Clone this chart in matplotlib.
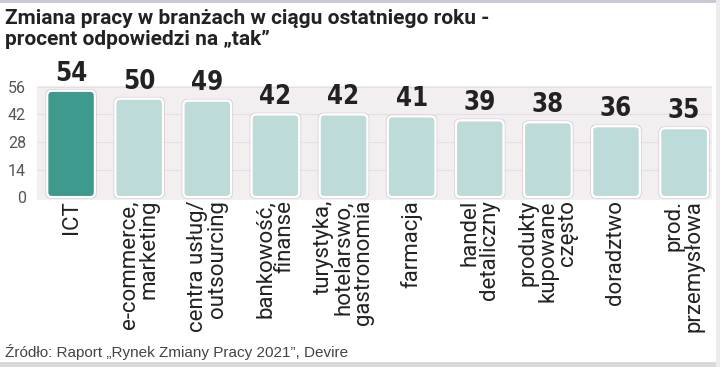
import matplotlib
matplotlib.use('Agg')
import matplotlib.pyplot as plt
from matplotlib.patches import FancyBboxPatch, Rectangle

# dane
categories = ["ICT", "e-commerce,\nmarketing", "centra usług/\noutsourcing", "bankowość,\nfinanse",
              "turystyka,\nhotelarswo,\ngastronomia", "farmacja", "handel\ndetaliczny",
              "produkty\nkupowane\nczęsto", "doradztwo", "prod.\nprzemysłowa"]
values = [54, 50, 49, 42, 42, 41, 39, 38, 36, 35]
yticks = [0, 14, 28, 42, 56]

title = "Zmiana pracy w branżach w ciągu ostatniego roku -\nprocent odpowiedzi na „tak”"
source = "Źródło: Raport „Rynek Zmiany Pracy 2021”, Devire"

dark = "#3f9a8e"
light = "#bcdbd9"

fig = plt.figure(figsize=(7.2, 3.67), dpi=100)
fig.patch.set_facecolor("white")

ax = fig.add_axes([0.0514, 0.455, 0.9375, 0.311])
ax.set_xlim(-0.5, 9.41)
ax.set_ylim(-1.5, 56.5)
ax.patch.set_alpha(0)

# tło wykresu
bg = FancyBboxPatch((0, 0), 1, 1, boxstyle="round,pad=0,rounding_size=0.03",
                    transform=ax.transAxes, facecolor="#f3eff1", edgecolor="none",
                    mutation_aspect=0.311 * 367 / (0.9375 * 720), zorder=0)
ax.add_patch(bg)

for y in yticks[1:]:
    ax.axhline(y, color="#e4dfe2", lw=0.8, zorder=1)

x = list(range(len(values)))
bars = ax.bar(x, values, width=0.7, color="none")
aspect = (58 / 114) / (9.91 / 675)
for i, b in enumerate(bars):
    c = dark if i == 0 else light
    p = FancyBboxPatch((b.get_x(), 0), b.get_width(), b.get_height(),
                       boxstyle="round,pad=0,rounding_size=0.07", mutation_aspect=aspect,
                       facecolor=c, edgecolor="white", lw=1.6, zorder=3)
    ax.add_patch(p)
    s = FancyBboxPatch((b.get_x() - 0.02, -0.6), b.get_width() + 0.04, b.get_height() + 1.2,
                       boxstyle="round,pad=0,rounding_size=0.08", mutation_aspect=aspect,
                       facecolor="none", edgecolor="#d6d0d3", lw=0.8, zorder=2)
    ax.add_patch(s)
    b.remove()
    ax.annotate(str(values[i]), (i, values[i]), xytext=(0, 3), textcoords="offset points",
                ha="center", va="bottom", fontsize=18.5, fontweight="bold", fontstretch="condensed",
                family=["DejaVu Sans"], color="#222222")

ax.set_yticks(yticks)
ax.set_yticklabels([str(t) for t in yticks], fontsize=11.5, color="#555555",
                   family=["Roboto", "DejaVu Sans"])
ax.set_xticks(x)
ax.set_xticklabels(categories, rotation=90, fontsize=16, color="#222222",
                   family=["Roboto", "DejaVu Sans"],
                   va="top", ha="center", multialignment="right", linespacing=0.92)
ax.tick_params(axis="both", length=0)
ax.tick_params(axis="y", pad=8)
ax.tick_params(axis="x", pad=0)
for sp in ax.spines.values():
    sp.set_visible(False)

fig.text(0.007, 0.975, title, ha="left", va="top", fontsize=15, fontweight="bold",
         family=["Roboto", "DejaVu Sans"], color="#222222", linespacing=1.15)
fig.text(0.007, 0.04, source, ha="left", va="center", fontsize=11,
         family=["Liberation Sans", "DejaVu Sans"], color="#444444")

# ramka
fig.patches.append(Rectangle((0, 0.993), 1, 0.007, transform=fig.transFigure,
                             facecolor="#c9c9d3", edgecolor="none"))
fig.patches.append(Rectangle((0, 0), 1, 0.014, transform=fig.transFigure,
                             facecolor="#d9d9d9", edgecolor="none"))
fig.patches.append(Rectangle((0.995, 0), 0.005, 1, transform=fig.transFigure,
                             facecolor="#ececec", edgecolor="none"))

fig.savefig("out.png", dpi=100)
